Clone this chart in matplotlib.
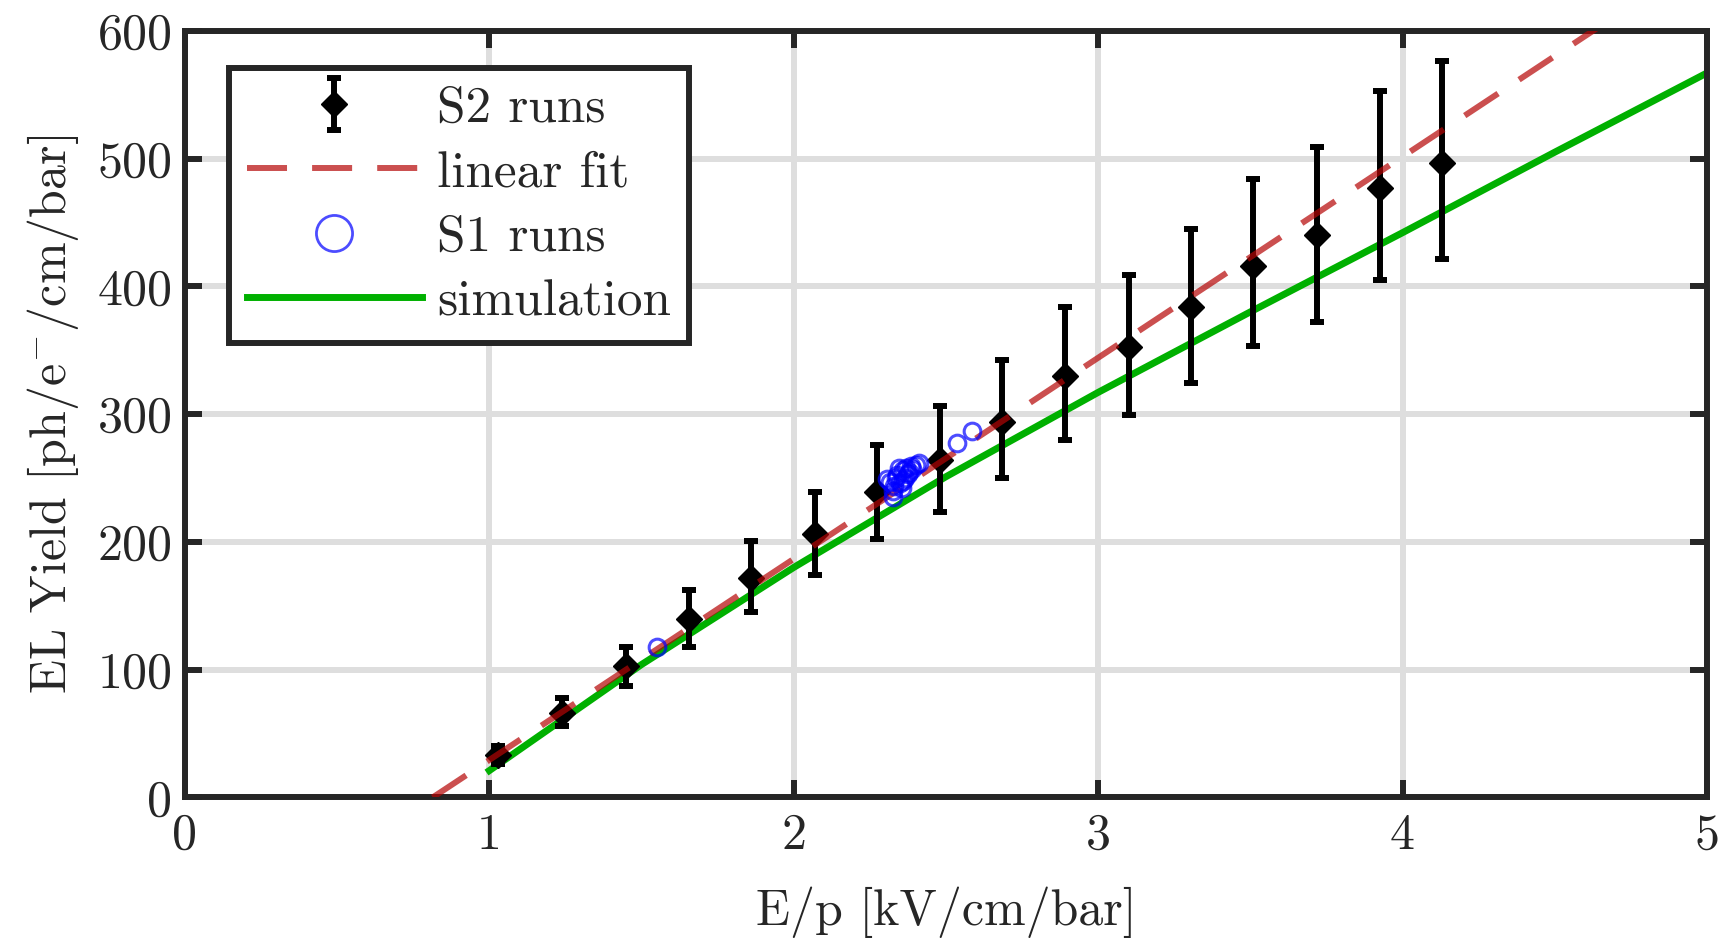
import matplotlib
matplotlib.use('Agg')
import matplotlib.pyplot as plt
import numpy as np
from matplotlib.lines import Line2D

plt.rcParams['font.family'] = 'serif'
plt.rcParams['font.serif'] = ['cmr10']
plt.rcParams['mathtext.fontset'] = 'cm'
plt.rcParams['axes.unicode_minus'] = False
plt.rcParams['axes.formatter.use_mathtext'] = False

# S2 runs (E/p, yield, lower, upper)
s2_x = [1.03, 1.24, 1.45, 1.655, 1.86, 2.07, 2.275, 2.48, 2.685, 2.89,
        3.10, 3.305, 3.51, 3.72, 3.925, 4.13]
s2_y = [33, 66, 102.6, 139.7, 172, 206, 239, 264, 294, 330,
        352.6, 383.6, 416, 440, 477, 496.5]
s2_lo = [26, 56, 87, 118, 145, 174, 202, 223, 250, 280,
         299, 324, 353, 372, 405, 421.5]
s2_hi = [40, 77.6, 118, 162, 201, 239, 276, 306, 342, 384,
         409, 445, 484, 509, 553, 576]

# S1 runs
s1_x = [1.55, 2.305, 2.325, 2.327, 2.34, 2.35, 2.36, 2.365, 2.37, 2.375,
        2.38, 2.385, 2.39, 2.40, 2.345, 2.33, 2.355, 2.41, 2.315, 2.335, 2.36,
        2.535, 2.584]
s1_y = [118, 249, 240, 235, 252, 246, 256, 250, 258, 253,
        255, 259, 257, 260, 258, 244, 242, 262, 247, 250, 248,
        277, 287]

# linear fit parameters
fit_slope = 157.4
fit_intercept = -128.1
fit_x = [0.814, 4.8]

# simulation curve
sim_x = [1.0, 1.5, 2.0, 2.5, 3.0, 3.5, 4.0, 4.5, 5.0]
sim_y = [21, 104, 180, 251, 317, 380, 442, 505, 567]

dark = (0.15, 0.15, 0.15)
fs = 36

fig = plt.figure(figsize=(17.27, 9.39), dpi=100)
ax = fig.add_axes([0.1071, 0.1508, 0.8813, 0.8164])

ax.plot(sim_x, sim_y, '-', color=(0, 0.69, 0), lw=5, zorder=2)
yerr = [np.array(s2_y) - np.array(s2_lo), np.array(s2_hi) - np.array(s2_y)]
ax.errorbar(s2_x, s2_y, yerr=yerr, fmt='D', color='k', ms=13, elinewidth=4.3,
            capsize=4.7, capthick=4.3, zorder=3)
fx = np.array(fit_x)
ax.plot(fx, fit_slope * fx + fit_intercept, '--', color=(0.71, 0.02, 0.02), alpha=0.7,
        lw=4.3, dashes=(6.7, 4.2), zorder=4)
ax.plot(s1_x, s1_y, 'o', mfc='none', mec=(0, 0, 1), alpha=0.7, ms=12, mew=2.2, zorder=5)

ax.set_xlim(0, 5)
ax.set_ylim(0, 600)
ax.set_xticks([0, 1, 2, 3, 4, 5])
ax.set_yticks([0, 100, 200, 300, 400, 500, 600])
ax.grid(True, color=(0.87, 0.87, 0.87), lw=4.3)
ax.set_axisbelow(True)
for s in ax.spines.values():
    s.set_linewidth(4.3)
    s.set_color(dark)
ax.tick_params(direction='in', length=12, width=4.3, color=dark, labelcolor=dark,
               labelsize=fs, top=True, right=True)
ax.tick_params(axis='x', pad=11)
ax.tick_params(axis='y', pad=9)

ax.set_xlabel('E/p [kV/cm/bar]', fontsize=fs, color=dark, labelpad=20)
ax.set_ylabel('EL Yield [ph/e$^{-}$/cm/bar]', fontsize=fs, color=dark, labelpad=12)

h_s2 = ax.errorbar([np.nan], [np.nan], yerr=[[1], [1]], fmt='D', color='k', ms=13,
                   elinewidth=4.3, capsize=4.7, capthick=4.3)
h_fit = Line2D([], [], ls='--', color=(0.71, 0.02, 0.02), alpha=0.7, lw=4.3, dashes=(6.7, 4.2))
h_s1 = Line2D([], [], ls='none', marker='o', mfc='none', mec=(0, 0, 1), alpha=0.7, ms=26, mew=2)
h_sim = Line2D([], [], color=(0, 0.69, 0), lw=5)
leg = ax.legend([h_s2, h_fit, h_s1, h_sim], ['S2 runs', 'linear fit', 'S1 runs', 'simulation'],
                loc='upper left', bbox_to_anchor=(0.012, 0.985), fontsize=37,
                handlelength=3.4, handletextpad=0.3, labelspacing=0.36, borderpad=0.35,
                fancybox=False, framealpha=1, edgecolor=dark)
leg.get_frame().set_linewidth(4.3)
for t in leg.get_texts():
    t.set_color(dark)

fig.savefig('out.png', dpi=100)
